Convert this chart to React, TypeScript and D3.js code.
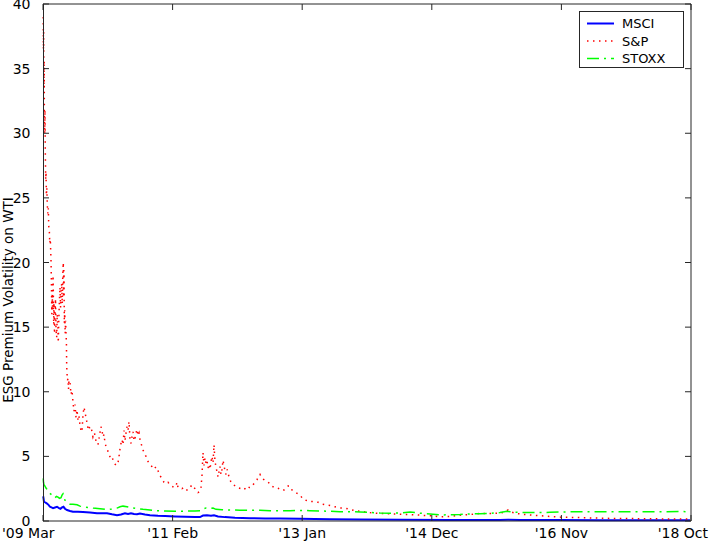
import React from "react";
import * as d3 from "d3";

// ---------- data (x in decimal years) ----------
const xTickYears = [2009.1667, 2011.0833, 2013.0, 2014.9167, 2016.8333, 2018.75];
const xTickLabels = ["'09 Mar", "'11 Feb", "'13 Jan", "'14 Dec", "'16 Nov", "'18 Oct"];
const yTicks = [0, 5, 10, 15, 20, 25, 30, 35, 40];

const seriesNames = ["MSCI", "S&P", "STOXX"];

const msciYears = [
  2009.170, 2009.176, 2009.181, 2009.196, 2009.211, 2009.226, 2009.248, 2009.270, 2009.292, 2009.315,
  2009.344, 2009.374, 2009.403, 2009.425, 2009.448, 2009.470, 2009.492, 2009.522, 2009.566, 2009.610,
  2009.684, 2009.758, 2009.862, 2009.965, 2010.039, 2010.113, 2010.187, 2010.261, 2010.320, 2010.379,
  2010.424, 2010.468, 2010.513, 2010.557, 2010.601, 2010.675, 2010.749, 2010.867, 2010.971, 2011.119,
  2011.267, 2011.415, 2011.489, 2011.533, 2011.592, 2011.651, 2011.696, 2011.755, 2011.858, 2012.006,
  2012.228, 2012.450, 2012.672, 2012.968, 2013.411, 2013.855, 2014.447, 2015.186, 2015.925, 2016.044,
  2016.221, 2016.813, 2017.404, 2018.144, 2018.735,
];
const msciValues = [
  1.9, 1.7, 1.5, 1.45, 1.4, 1.35, 1.25, 1.1, 1.05, 1.0,
  1.05, 1.1, 1.0, 0.95, 1.05, 1.1, 0.95, 0.85, 0.78, 0.72,
  0.72, 0.7, 0.65, 0.6, 0.6, 0.6, 0.52, 0.45, 0.5, 0.6,
  0.55, 0.6, 0.55, 0.52, 0.58, 0.5, 0.45, 0.4, 0.38, 0.35,
  0.32, 0.3, 0.3, 0.42, 0.45, 0.4, 0.45, 0.35, 0.3, 0.25,
  0.22, 0.2, 0.2, 0.17, 0.14, 0.12, 0.1, 0.08, 0.08, 0.1,
  0.08, 0.07, 0.06, 0.06, 0.05,
];

const spYears = [
  2009.170, 2009.173, 2009.176, 2009.179, 2009.181, 2009.184, 2009.187, 2009.192, 2009.196, 2009.201,
  2009.207, 2009.211, 2009.217, 2009.223, 2009.230, 2009.238, 2009.245, 2009.252, 2009.260, 2009.267,
  2009.275, 2009.281, 2009.285, 2009.291, 2009.297, 2009.303, 2009.310, 2009.315, 2009.319, 2009.325,
  2009.329, 2009.337, 2009.344, 2009.352, 2009.359, 2009.369, 2009.377, 2009.386, 2009.393, 2009.400,
  2009.409, 2009.418, 2009.427, 2009.436, 2009.443, 2009.452, 2009.459, 2009.467, 2009.473, 2009.477,
  2009.482, 2009.488, 2009.495, 2009.501, 2009.507, 2009.513, 2009.517, 2009.522, 2009.529, 2009.536,
  2009.544, 2009.551, 2009.566, 2009.581, 2009.596, 2009.610, 2009.625, 2009.640, 2009.655, 2009.670,
  2009.684, 2009.699, 2009.714, 2009.729, 2009.743, 2009.758, 2009.773, 2009.788, 2009.803, 2009.817,
  2009.832, 2009.847, 2009.862, 2009.884, 2009.906, 2009.928, 2009.950, 2009.980, 2010.002, 2010.024,
  2010.039, 2010.054, 2010.069, 2010.084, 2010.098, 2010.121, 2010.143, 2010.165, 2010.187, 2010.209,
  2010.231, 2010.254, 2010.276, 2010.291, 2010.306, 2010.320, 2010.335, 2010.350, 2010.365, 2010.379,
  2010.394, 2010.409, 2010.424, 2010.439, 2010.453, 2010.468, 2010.483, 2010.498, 2010.513, 2010.527,
  2010.542, 2010.557, 2010.572, 2010.587, 2010.601, 2010.623, 2010.646, 2010.668, 2010.690, 2010.720,
  2010.749, 2010.779, 2010.808, 2010.838, 2010.867, 2010.897, 2010.927, 2010.956, 2010.986, 2011.015,
  2011.045, 2011.074, 2011.104, 2011.134, 2011.148, 2011.163, 2011.193, 2011.222, 2011.252, 2011.281,
  2011.311, 2011.341, 2011.370, 2011.400, 2011.429, 2011.459, 2011.489, 2011.503, 2011.518, 2011.533,
  2011.548, 2011.563, 2011.577, 2011.592, 2011.607, 2011.622, 2011.637, 2011.651, 2011.666, 2011.681,
  2011.696, 2011.710, 2011.725, 2011.740, 2011.755, 2011.770, 2011.784, 2011.799, 2011.814, 2011.829,
  2011.843, 2011.858, 2011.873, 2011.888, 2011.903, 2011.925, 2011.947, 2011.977, 2012.006, 2012.036,
  2012.065, 2012.095, 2012.125, 2012.154, 2012.184, 2012.213, 2012.243, 2012.272, 2012.302, 2012.332,
  2012.361, 2012.376, 2012.405, 2012.435, 2012.465, 2012.494, 2012.524, 2012.553, 2012.583, 2012.613,
  2012.642, 2012.672, 2012.701, 2012.731, 2012.760, 2012.790, 2012.820, 2012.849, 2012.879, 2012.908,
  2012.938, 2012.968, 2013.012, 2013.056, 2013.115, 2013.175, 2013.234, 2013.293, 2013.352, 2013.411,
  2013.485, 2013.559, 2013.633, 2013.707, 2013.781, 2013.855, 2013.929, 2014.003, 2014.106, 2014.225,
  2014.328, 2014.447, 2014.595, 2014.698, 2014.816, 2014.920, 2015.038, 2015.186, 2015.334, 2015.482,
  2015.630, 2015.777, 2015.925, 2015.999, 2016.044, 2016.088, 2016.147, 2016.295, 2016.413, 2016.591,
  2016.813, 2017.035, 2017.256, 2017.552, 2017.848, 2018.144, 2018.439, 2018.735,
];
const spValues = [
  39.0, 36.5, 38.0, 35.3, 33.5, 35.6, 31.5, 30.0, 31.8, 28.5,
  26.4, 27.0, 25.2, 25.8, 24.5, 23.8, 24.2, 22.8, 22.5, 21.5,
  21.8, 20.8, 20.2, 18.5, 16.0, 17.5, 16.3, 19.0, 17.9, 15.2,
  16.9, 14.5, 15.8, 17.2, 14.8, 14.2, 16.0, 15.0, 13.8, 15.5,
  17.0, 18.1, 16.5, 17.8, 18.4, 16.8, 19.0, 20.0, 17.3, 19.4,
  15.3, 16.3, 14.5, 15.5, 14.5, 13.8, 12.0, 11.4, 10.9, 11.0,
  10.2, 10.9, 10.7, 9.8, 10.1, 9.2, 8.5, 9.0, 8.0, 8.6,
  7.8, 8.1, 7.4, 7.0, 6.9, 8.2, 8.8, 8.4, 8.0, 7.6,
  7.2, 7.4, 7.0, 7.1, 6.5, 6.8, 6.2, 5.9, 6.6, 7.3,
  7.0, 6.5, 6.7, 6.0, 5.8, 5.5, 5.1, 4.9, 5.0, 4.6,
  4.4, 4.3, 4.5, 5.0, 5.6, 6.0, 6.3, 5.9, 7.0, 6.2,
  6.8, 7.3, 7.0, 7.7, 6.3, 6.0, 6.5, 6.9, 6.2, 6.4,
  6.8, 7.1, 6.6, 6.8, 6.3, 5.9, 5.5, 5.2, 5.0, 4.6,
  4.4, 4.2, 4.0, 4.2, 3.9, 3.5, 3.3, 3.0, 2.9, 3.0,
  2.8, 2.7, 2.6, 2.7, 3.0, 2.6, 2.6, 2.5, 2.6, 2.4,
  2.4, 2.6, 2.8, 2.6, 2.4, 2.2, 2.3, 2.6, 3.5, 5.3,
  4.3, 4.9, 4.5, 4.7, 4.1, 4.4, 4.0, 4.6, 5.0, 4.5,
  5.9, 4.6, 4.2, 3.8, 3.4, 3.8, 4.2, 3.6, 4.0, 4.7,
  4.3, 3.9, 3.6, 4.0, 3.7, 3.3, 3.0, 2.9, 2.7, 2.6,
  2.55, 2.5, 2.4, 2.5, 2.4, 2.6, 2.6, 2.8, 3.0, 3.2,
  3.5, 3.6, 3.3, 3.2, 3.1, 3.0, 2.9, 2.7, 2.6, 2.6,
  2.55, 2.4, 2.4, 2.4, 2.6, 2.7, 2.7, 2.4, 2.3, 2.2,
  2.1, 2.0, 1.7, 1.6, 1.5, 1.5, 1.45, 1.3, 1.25, 1.2,
  1.1, 1.0, 1.0, 0.9, 0.8, 0.75, 0.7, 0.65, 0.6, 0.57,
  0.55, 0.52, 0.5, 0.47, 0.42, 0.4, 0.32, 0.35, 0.45, 0.5,
  0.58, 0.58, 0.6, 0.7, 0.85, 0.7, 0.6, 0.5, 0.45, 0.38,
  0.3, 0.27, 0.24, 0.2, 0.19, 0.17, 0.16, 0.15,
];

const stoxxYears = [
  2009.170, 2009.174, 2009.181, 2009.196, 2009.211, 2009.233, 2009.255, 2009.278, 2009.300, 2009.322,
  2009.344, 2009.366, 2009.389, 2009.411, 2009.433, 2009.448, 2009.463, 2009.477, 2009.492, 2009.514,
  2009.536, 2009.566, 2009.610, 2009.670, 2009.714, 2009.758, 2009.832, 2009.906, 2010.010, 2010.113,
  2010.187, 2010.261, 2010.306, 2010.350, 2010.409, 2010.453, 2010.498, 2010.572, 2010.646, 2010.749,
  2010.853, 2010.971, 2011.119, 2011.267, 2011.415, 2011.489, 2011.533, 2011.577, 2011.637, 2011.681,
  2011.725, 2011.814, 2011.932, 2012.080, 2012.228, 2012.376, 2012.524, 2012.672, 2012.820, 2012.968,
  2013.115, 2013.263, 2013.411, 2013.559, 2013.707, 2013.855, 2014.003, 2014.151, 2014.299, 2014.447,
  2014.595, 2014.742, 2014.890, 2015.038, 2015.186, 2015.334, 2015.482, 2015.630, 2015.777, 2015.925,
  2016.029, 2016.103, 2016.221, 2016.443, 2016.665, 2016.887, 2017.109, 2017.404, 2017.700, 2017.996,
  2018.291, 2018.587, 2018.735,
];
const stoxxValues = [
  3.3, 3.0, 2.8, 2.7, 2.55, 2.4, 2.2, 2.1, 2.0, 1.85,
  1.8, 1.9, 1.85, 1.75, 1.8, 2.0, 2.1, 1.9, 1.6, 1.5,
  1.4, 1.3, 1.3, 1.25, 1.15, 1.1, 1.05, 1.0, 0.95, 0.88,
  0.92, 1.0, 1.1, 1.15, 1.1, 1.05, 1.0, 0.95, 0.9, 0.85,
  0.8, 0.78, 0.76, 0.76, 0.78, 0.8, 0.95, 1.0, 0.98, 1.0,
  0.9, 0.88, 0.85, 0.84, 0.83, 0.84, 0.8, 0.8, 0.8, 0.82,
  0.8, 0.78, 0.75, 0.72, 0.72, 0.7, 0.66, 0.62, 0.6, 0.62,
  0.7, 0.6, 0.55, 0.47, 0.48, 0.5, 0.55, 0.56, 0.6, 0.65,
  0.75, 0.7, 0.66, 0.65, 0.67, 0.7, 0.72, 0.72, 0.71, 0.72,
  0.72, 0.73, 0.72,
];

// ---------- layout ----------
const W = 709;
const H = 541;
const L = 43;
const R = 691;
const T = 4;
const B = 521;
const FONT = "'DejaVu Sans', sans-serif";
const AXIS = "#262626";
const TICK_FS = 14;
const LABEL_FS = 13.5;
const LEGEND_FS = 13;

export default function App() {
  const x = d3.scaleLinear().domain([xTickYears[0], xTickYears[xTickYears.length - 1]]).range([L, R]);
  const y = d3.scaleLinear().domain([0, 40]).range([B, T]);

  const mk = (years: number[], vals: number[]) =>
    d3
      .line<number>()
      .x((_, i) => x(years[i]))
      .y((v) => y(v))(vals) || "";

  const styles = [
    { color: "#0000ff", width: 2, dash: "none" },
    { color: "#ff0000", width: 1.5, dash: "1.5,4.5" },
    { color: "#00ff00", width: 1.5, dash: "12,5,2,5" },
  ];
  const paths = [mk(msciYears, msciValues), mk(spYears, spValues), mk(stoxxYears, stoxxValues)];
  const tl = 6;
  const last = xTickYears.length - 1;

  return (
    <svg
      width={W}
      height={H}
      style={{ position: "absolute", left: 0, top: 0, background: "#fff" }}
      fontFamily={FONT}
    >
      <rect x={0} y={0} width={W} height={H} fill="#fff" />
      {/* data */}
      {paths.map((d, i) => (
        <path
          key={i}
          d={d}
          fill="none"
          stroke={styles[i].color}
          strokeWidth={styles[i].width}
          strokeDasharray={styles[i].dash}
        />
      ))}
      {/* box */}
      <line x1={L + 0.5} x2={L + 0.5} y1={T} y2={B} stroke={AXIS} />
      <line x1={R} x2={R} y1={T} y2={B} stroke={AXIS} />
      <line x1={L} x2={R} y1={T} y2={T} stroke={AXIS} />
      <line x1={L} x2={R} y1={B} y2={B} stroke={AXIS} />
      {/* y ticks */}
      {yTicks.map((v) => (
        <g key={"y" + v}>
          <line x1={L} x2={L + tl} y1={y(v)} y2={y(v)} stroke={AXIS} />
          <line x1={R - tl} x2={R} y1={y(v)} y2={y(v)} stroke={AXIS} />
          <text x={30.5} y={y(v)} dy="0.36em" textAnchor="end" fontSize={TICK_FS} fill="#000">
            {v}
          </text>
        </g>
      ))}
      {/* x ticks */}
      {xTickYears.map((t, i) => (
        <g key={"x" + i}>
          <line x1={x(t)} x2={x(t)} y1={B} y2={B - tl} stroke={AXIS} />
          <line x1={x(t)} x2={x(t)} y1={T} y2={T + tl} stroke={AXIS} />
          <text
            x={i === 0 ? 2 : i === last ? 708 : x(t)}
            y={537.5}
            textAnchor={i === 0 ? "start" : i === last ? "end" : "middle"}
            fontSize={TICK_FS}
            fill="#000"
          >
            {xTickLabels[i]}
          </text>
        </g>
      ))}
      {/* y label */}
      <text transform={`translate(12.5,300) rotate(-90)`} textAnchor="middle" fontSize={LABEL_FS} fill="#000">
        ESG Premium Volatility on WTI
      </text>
      {/* legend */}
      <g>
        <rect x={579.5} y={11.5} width={104} height={56} fill="#fff" stroke={AXIS} strokeWidth={1} />
        {seriesNames.map((n, i) => {
          const yy = 23.5 + i * 17.5;
          return (
            <g key={n}>
              <line
                x1={587}
                x2={614}
                y1={yy}
                y2={yy}
                stroke={styles[i].color}
                strokeWidth={styles[i].width}
                strokeDasharray={styles[i].dash}
              />
              <text x={622} y={yy} dy="0.36em" fontSize={LEGEND_FS} fill="#000">
                {n}
              </text>
            </g>
          );
        })}
      </g>
    </svg>
  );
}
